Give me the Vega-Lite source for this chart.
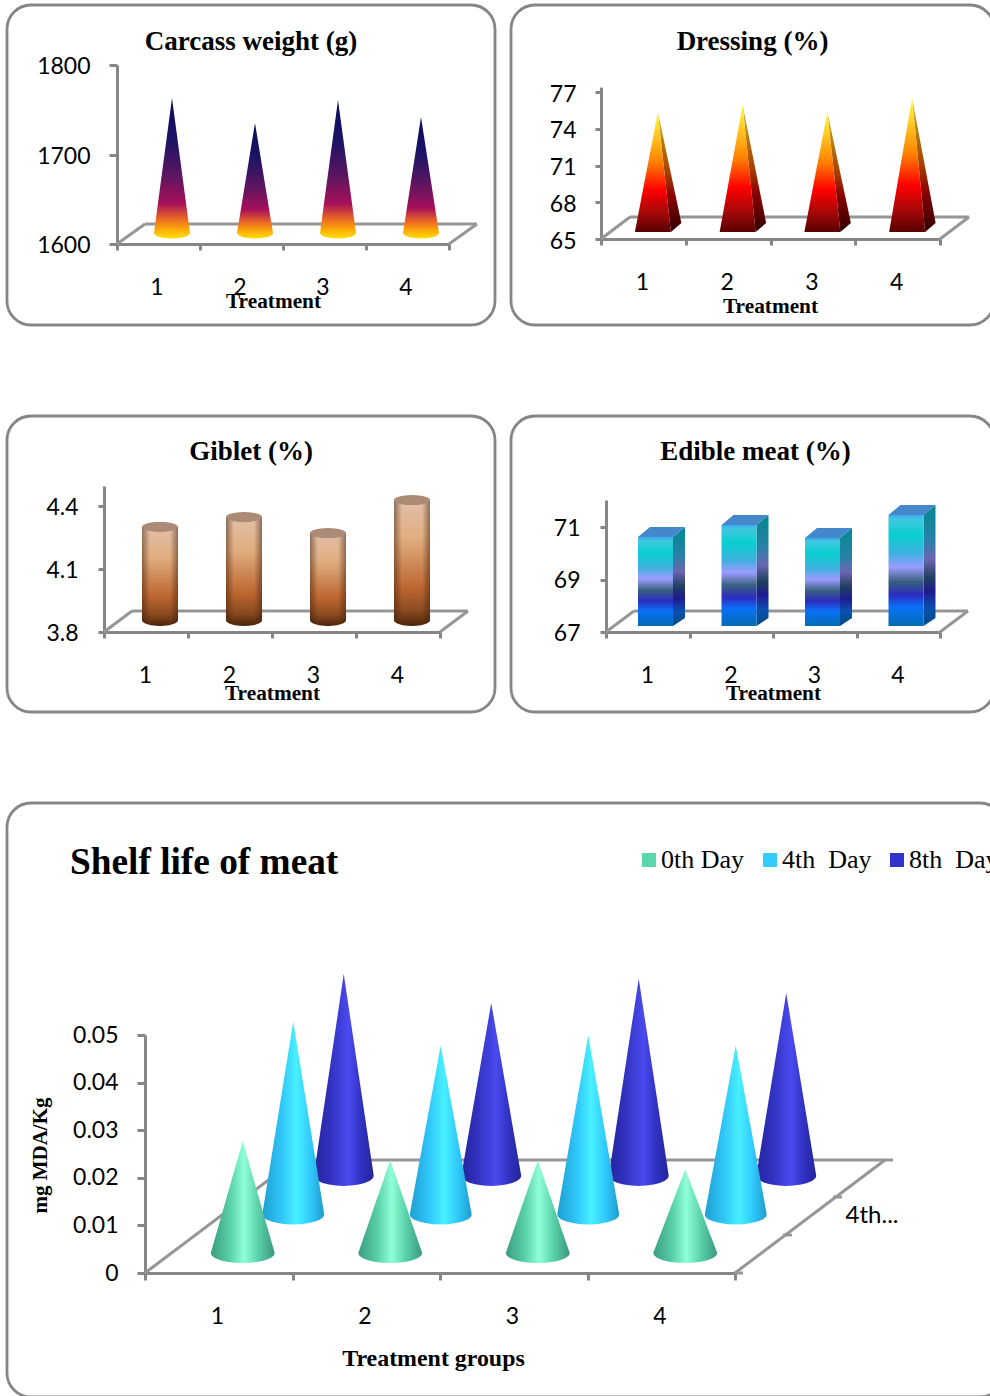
{
"$schema":"https://vega.github.io/schema/vega-lite/v6.json",
"padding":{"left":5,"top":3,"right":0,"bottom":0},
"background":"white",
"config":{
"view":{"stroke":"#868686","strokeWidth":2.8,"cornerRadius":24,"fill":"white"},
"title":{"font":"Liberation Serif","fontWeight":"bold","color":"#000","fontSize":27,"frame":"group","anchor":"middle","baseline":"alphabetic"},
"axis":{"grid":false,"domainColor":"#868686","domainWidth":3,"tickColor":"#868686","tickWidth":3,"labelFont":"Lato","labelFontSize":23,"labelColor":"#000","titleFont":"Liberation Serif","titleFontWeight":"bold","titleColor":"#000","labelOverlap":false,"labelBound":false,"labelFlush":false,"titleFontSize":21.3,"titleAlign":"center","titleBaseline":"alphabetic"}
},
"datasets":{
"frame":[{"part":"floor"}],
"carcass":[{"treatment":1,"value":1750.8},{"treatment":2,"value":1722.9},{"treatment":3,"value":1748.6},{"treatment":4,"value":1729.6}],
"dressing":[{"treatment":1,"value":74.8},{"treatment":2,"value":75.37},{"treatment":3,"value":74.8},{"treatment":4,"value":75.94}],
"giblet":[{"treatment":1,"value":4.243},{"treatment":2,"value":4.29},{"treatment":3,"value":4.214},{"treatment":4,"value":4.371}],
"edible":[{"treatment":1,"value":70.39},{"treatment":2,"value":70.85},{"treatment":3,"value":70.35},{"treatment":4,"value":71.23}],
"shelf":[
{"treatment":1,"series":"0th Day","value":0.0235},{"treatment":2,"series":"0th Day","value":0.0195},{"treatment":3,"series":"0th Day","value":0.0195},{"treatment":4,"series":"0th Day","value":0.0176},
{"treatment":1,"series":"4th\u00a0\u00a0Day","value":0.0405},{"treatment":2,"series":"4th\u00a0\u00a0Day","value":0.0355},{"treatment":3,"series":"4th\u00a0\u00a0Day","value":0.0376},{"treatment":4,"series":"4th\u00a0\u00a0Day","value":0.0355},
{"treatment":1,"series":"8th\u00a0\u00a0Day","value":0.0424},{"treatment":2,"series":"8th\u00a0\u00a0Day","value":0.0363},{"treatment":3,"series":"8th\u00a0\u00a0Day","value":0.0414},{"treatment":4,"series":"8th\u00a0\u00a0Day","value":0.0384}
]
},
"spacing":87,
"vconcat":[
{"spacing":16,"bounds":"flush","hconcat":[
{"width":488,"height":320,
"title":{"text":"Carcass weight (g)","offset":-51},
"resolve":{"axis":{"x":"independent","y":"independent"}},
"layer":[
{"data":{"name":"frame"},"mark":{"type":"rule","color":"#969696","strokeWidth":3},
"encoding":{
"x":{"datum":0.837,"type":"quantitative","scale":{"domain":[0.5,4.5],"range":[110,442],"nice":false,"zero":false},
"axis":{"orient":"bottom","offset":-81,"values":[0.5,1.5,2.5,3.5,4.5],"labelExpr":"datum.value<4 ? ''+(datum.value+0.5) : ''","labelOffset":39.5,"tickSize":6,"labelPadding":26,"title":"Treatment","titleX":266,"titleY":63}},
"x2":{"datum":4.837},
"y":{"datum":1622.3,"type":"quantitative","scale":{"domain":[1600,1800],"range":[239,60],"nice":false,"zero":false},
"axis":{"orient":"left","offset":-110,"values":[1600,1700,1800],"format":"d","tickSize":8,"labelPadding":19,"labelOffset":1.5,"title":null}}
}},
{"data":{"name":"frame"},"mark":{"type":"rule","color":"#969696","strokeWidth":3},"encoding":{"x":{"datum":0.5,"axis":null},"x2":{"datum":0.837},"y":{"datum":1600,"axis":null},"y2":{"datum":1622.3}}},
{"data":{"name":"frame"},"mark":{"type":"rule","color":"#969696","strokeWidth":3},"encoding":{"x":{"datum":4.5,"axis":null},"x2":{"datum":4.837},"y":{"datum":1600,"axis":null},"y2":{"datum":1622.3}}},
{"data":{"name":"carcass"},
"transform":[
{"calculate":"[-1,-0.97,-0.87,-0.7,-0.5,-0.25,0,0.25,0.5,0.7,0.87,0.97,1]","as":"t"},{"flatten":["t"]},
{"calculate":"datum.treatment+(13.5+18*datum.t)/83","as":"px"},
{"calculate":"1612.3-5.5/0.895*sqrt(1-datum.t*datum.t)","as":"lo"},
{"calculate":"1612.3+(datum.value-1600)*(1-abs(datum.t))","as":"hi"}],
"mark":{"type":"area","orient":"vertical","fill":{"gradient":"linear","x1":0,"y1":0,"x2":0,"y2":1,"stops":[{"offset":0,"color":"#0c0c5c"},{"offset":0.3,"color":"#1c1465"},{"offset":0.55,"color":"#5c1560"},{"offset":0.75,"color":"#a8105a"},{"offset":0.87,"color":"#f07020"},{"offset":0.96,"color":"#ffc000"},{"offset":1,"color":"#ffe000"}]}},
"encoding":{"x":{"field":"px","type":"quantitative","axis":null},"y":{"field":"lo","type":"quantitative","axis":null},"y2":{"field":"hi"},"detail":{"field":"treatment","type":"nominal"}}}
]},
{"width":483,"height":320,
"title":{"text":"Dressing (%)","offset":-51},
"resolve":{"axis":{"x":"independent","y":"independent"}},
"layer":[
{"data":{"name":"frame"},"mark":{"type":"rule","color":"#969696","strokeWidth":3},
"encoding":{
"x":{"datum":0.842,"type":"quantitative","scale":{"domain":[0.5,4.5],"range":[90,429],"nice":false,"zero":false},
"axis":{"orient":"bottom","offset":-86,"values":[0.5,1.5,2.5,3.5,4.5],"labelExpr":"datum.value<4 ? ''+(datum.value+0.5) : ''","labelOffset":41,"tickSize":6,"labelPadding":26,"title":"Treatment","titleX":259,"titleY":73}},
"x2":{"datum":4.842},
"y":{"datum":66.8,"type":"quantitative","scale":{"domain":[65,77.4],"range":[234,82.1],"nice":false,"zero":false},
"axis":{"orient":"left","offset":-90,"values":[65,68,71,74,77],"tickSize":6,"labelPadding":19,"labelOffset":2,"title":null}}
}},
{"data":{"name":"frame"},"mark":{"type":"rule","color":"#969696","strokeWidth":3},"encoding":{"x":{"datum":0.5,"axis":null},"x2":{"datum":0.842},"y":{"datum":65,"axis":null},"y2":{"datum":66.8}}},
{"data":{"name":"frame"},"mark":{"type":"rule","color":"#969696","strokeWidth":3},"encoding":{"x":{"datum":4.5,"axis":null},"x2":{"datum":4.842},"y":{"datum":65,"axis":null},"y2":{"datum":66.8}}},
{"data":{"name":"dressing"},
"transform":[
{"calculate":"[5,18,28.5]","as":"dx"},{"flatten":["dx"]},
{"calculate":"datum.treatment+(9.5+datum.dx)/84.75","as":"px"},
{"calculate":"datum.dx==5?datum.value+0.57:(datum.dx==18?65.57:66.3)","as":"lo"},
{"calculate":"datum.dx==5?datum.value+0.57:(datum.dx==18?66.3+(datum.value-65.73)*0.4468:66.3)","as":"hi"}],
"mark":{"type":"area","orient":"vertical","fill":{"gradient":"linear","x1":0,"y1":0,"x2":0,"y2":1,"stops":[{"offset":0,"color":"#d8c040"},{"offset":0.25,"color":"#b87a10"},{"offset":0.5,"color":"#a84000"},{"offset":0.7,"color":"#8a0000"},{"offset":1,"color":"#300000"}]}},
"encoding":{"x":{"field":"px","type":"quantitative","axis":null},"y":{"field":"lo","type":"quantitative","axis":null},"y2":{"field":"hi"},"detail":{"field":"treatment","type":"nominal"}}},
{"data":{"name":"dressing"},
"transform":[
{"calculate":"[-18,5,18]","as":"dx"},{"flatten":["dx"]},
{"calculate":"datum.treatment+(9.5+datum.dx)/84.75","as":"px"},
{"calculate":"65.57","as":"lo"},
{"calculate":"datum.dx==5?datum.value+0.57:65.57","as":"hi"}],
"mark":{"type":"area","orient":"vertical","fill":{"gradient":"linear","x1":0,"y1":0,"x2":0,"y2":1,"stops":[{"offset":0,"color":"#ffff40"},{"offset":0.22,"color":"#ffc020"},{"offset":0.42,"color":"#ff8000"},{"offset":0.65,"color":"#ff0000"},{"offset":0.85,"color":"#a00808"},{"offset":1,"color":"#580000"}]}},
"encoding":{"x":{"field":"px","type":"quantitative","axis":null},"y":{"field":"lo","type":"quantitative","axis":null},"y2":{"field":"hi"},"detail":{"field":"treatment","type":"nominal"}}}
]}
]},
{"spacing":16,"bounds":"flush","hconcat":[
{"width":488,"height":296,
"title":{"text":"Giblet (%)","offset":-50},
"resolve":{"axis":{"x":"independent","y":"independent"}},
"layer":[
{"data":{"name":"frame"},"mark":{"type":"rule","color":"#969696","strokeWidth":3},
"encoding":{
"x":{"datum":0.833,"type":"quantitative","scale":{"domain":[0.5,4.5],"range":[97,433],"nice":false,"zero":false},
"axis":{"orient":"bottom","offset":-80,"values":[0.5,1.5,2.5,3.5,4.5],"labelExpr":"datum.value<4 ? ''+(datum.value+0.5) : ''","labelOffset":41,"tickSize":6,"labelPadding":26,"title":"Treatment","titleX":265,"titleY":67}},
"x2":{"datum":4.833},
"y":{"datum":3.9,"type":"quantitative","scale":{"domain":[3.8,4.495],"range":[216,70],"nice":false,"zero":false},
"axis":{"orient":"left","offset":-97,"values":[3.8,4.1,4.4],"format":".1f","tickSize":6,"labelPadding":20,"labelOffset":1.5,"title":null}}
}},
{"data":{"name":"frame"},"mark":{"type":"rule","color":"#969696","strokeWidth":3},"encoding":{"x":{"datum":0.5,"axis":null},"x2":{"datum":0.833},"y":{"datum":3.8,"axis":null},"y2":{"datum":3.9}}},
{"data":{"name":"frame"},"mark":{"type":"rule","color":"#969696","strokeWidth":3},"encoding":{"x":{"datum":4.5,"axis":null},"x2":{"datum":4.833},"y":{"datum":3.8,"axis":null},"y2":{"datum":3.9}}},
{"data":{"name":"giblet"},
"transform":[
{"calculate":"[-1,-0.97,-0.87,-0.7,-0.5,-0.25,0,0.25,0.5,0.7,0.87,0.97,1]","as":"t"},{"flatten":["t"]},
{"calculate":"datum.treatment+(14+18*datum.t)/84","as":"px"},
{"calculate":"3.857-0.0286*sqrt(1-datum.t*datum.t)","as":"lo"},
{"calculate":"datum.value+0.057","as":"hi"},
{"calculate":"datum.value+0.057-0.024*sqrt(1-datum.t*datum.t)","as":"capLo"},
{"calculate":"datum.value+0.057+0.024*sqrt(1-datum.t*datum.t)","as":"capHi"}],
"layer":[
{"mark":{"type":"area","orient":"vertical","fill":{"gradient":"linear","x1":0,"y1":0,"x2":0,"y2":1,"stops":[{"offset":0,"color":"#e2bfa8"},{"offset":0.3,"color":"#e0ae80"},{"offset":0.7,"color":"#bd6630"},{"offset":0.88,"color":"#8a4a20"},{"offset":1,"color":"#4a2408"}]}},
"encoding":{"x":{"field":"px","type":"quantitative","axis":null},"y":{"field":"lo","type":"quantitative","axis":null},"y2":{"field":"hi"},"detail":{"field":"treatment","type":"nominal"}}},
{"mark":{"type":"area","orient":"vertical","fill":{"gradient":"linear","x1":0,"y1":0,"x2":1,"y2":0,"stops":[{"offset":0,"color":"rgba(60,30,10,0.5)"},{"offset":0.22,"color":"rgba(60,30,10,0)"},{"offset":0.78,"color":"rgba(60,30,10,0)"},{"offset":1,"color":"rgba(60,30,10,0.5)"}]}},
"encoding":{"x":{"field":"px","type":"quantitative","axis":null},"y":{"field":"lo","type":"quantitative","axis":null},"y2":{"field":"hi"},"detail":{"field":"treatment","type":"nominal"}}},
{"mark":{"type":"area","orient":"vertical","fill":"#ab8a76"},
"encoding":{"x":{"field":"px","type":"quantitative","axis":null},"y":{"field":"capLo","type":"quantitative","axis":null},"y2":{"field":"capHi"},"detail":{"field":"treatment","type":"nominal"}}}
]}
]},
{"width":483,"height":296,
"title":{"text":"Edible meat (%)","offset":-50,"dx":3},
"resolve":{"axis":{"x":"independent","y":"independent"}},
"layer":[
{"data":{"name":"frame"},"mark":{"type":"rule","color":"#969696","strokeWidth":3},
"encoding":{
"x":{"datum":0.835,"type":"quantitative","scale":{"domain":[0.5,4.5],"range":[95,429],"nice":false,"zero":false},
"axis":{"orient":"bottom","offset":-80,"values":[0.5,1.5,2.5,3.5,4.5],"labelExpr":"datum.value<4 ? ''+(datum.value+0.5) : ''","labelOffset":41,"tickSize":6,"labelPadding":26,"title":"Treatment","titleX":262,"titleY":67}},
"x2":{"datum":4.835},
"y":{"datum":67.8,"type":"quantitative","scale":{"domain":[67,72.03],"range":[216,84],"nice":false,"zero":false},
"axis":{"orient":"left","offset":-95,"values":[67,69,71],"tickSize":6,"labelPadding":20,"labelOffset":1,"title":null}}
}},
{"data":{"name":"frame"},"mark":{"type":"rule","color":"#969696","strokeWidth":3},"encoding":{"x":{"datum":0.5,"axis":null},"x2":{"datum":0.835},"y":{"datum":67,"axis":null},"y2":{"datum":67.8}}},
{"data":{"name":"frame"},"mark":{"type":"rule","color":"#969696","strokeWidth":3},"encoding":{"x":{"datum":4.5,"axis":null},"x2":{"datum":4.835},"y":{"datum":67,"axis":null},"y2":{"datum":67.8}}},
{"data":{"name":"edible"},
"transform":[
{"calculate":"[17.5,29.5]","as":"dx"},{"flatten":["dx"]},
{"calculate":"datum.treatment+(7.75+datum.dx)/83.5","as":"px"},
{"calculate":"datum.dx==17.5?67.229:67.534","as":"lo"},
{"calculate":"datum.dx==17.5?datum.value+0.229:datum.value+0.61","as":"hi"}],
"mark":{"type":"area","orient":"vertical","fill":{"gradient":"linear","x1":0,"y1":0,"x2":0,"y2":1,"stops":[{"offset":0,"color":"#008a90"},{"offset":0.3,"color":"#2a80a8"},{"offset":0.45,"color":"#6a66b0"},{"offset":0.6,"color":"#203f60"},{"offset":0.72,"color":"#201a90"},{"offset":0.85,"color":"#0a50b0"},{"offset":1,"color":"#004a80"}]}},
"encoding":{"x":{"field":"px","type":"quantitative","axis":null},"y":{"field":"lo","type":"quantitative","axis":null},"y2":{"field":"hi"},"detail":{"field":"treatment","type":"nominal"}}},
{"data":{"name":"edible"},
"transform":[
{"calculate":"[-17.5,-5.5,17.5,29.5]","as":"dx"},{"flatten":["dx"]},
{"calculate":"datum.treatment+(7.75+datum.dx)/83.5","as":"px"},
{"calculate":"datum.dx==29.5?datum.value+0.61:datum.value+0.229","as":"lo"},
{"calculate":"datum.dx==-17.5?datum.value+0.229:datum.value+0.61","as":"hi"}],
"mark":{"type":"area","orient":"vertical","fill":"#4488cc"},
"encoding":{"x":{"field":"px","type":"quantitative","axis":null},"y":{"field":"lo","type":"quantitative","axis":null},"y2":{"field":"hi"},"detail":{"field":"treatment","type":"nominal"}}},
{"data":{"name":"edible"},
"transform":[
{"calculate":"[-17.5,17.5]","as":"dx"},{"flatten":["dx"]},
{"calculate":"datum.treatment+(7.75+datum.dx)/83.5","as":"px"},
{"calculate":"67.229","as":"lo"},
{"calculate":"datum.value+0.229","as":"hi"}],
"mark":{"type":"area","orient":"vertical","fill":{"gradient":"linear","x1":0,"y1":0,"x2":0,"y2":1,"stops":[{"offset":0,"color":"#3aa8f0"},{"offset":0.04,"color":"#40c8e0"},{"offset":0.18,"color":"#08cfd0"},{"offset":0.35,"color":"#40b0e0"},{"offset":0.47,"color":"#9c9cff"},{"offset":0.6,"color":"#386080"},{"offset":0.72,"color":"#2c2cc0"},{"offset":0.83,"color":"#0a70f8"},{"offset":1,"color":"#006cb0"}]}},
"encoding":{"x":{"field":"px","type":"quantitative","axis":null},"y":{"field":"lo","type":"quantitative","axis":null},"y2":{"field":"hi"},"detail":{"field":"treatment","type":"nominal"}}}
]}
]},
{"width":997,"height":594,"bounds":"flush",
"title":{"text":"Shelf life of meat","offset":-79,"anchor":"start","dx":63,"fontSize":37.3},
"resolve":{"axis":{"x":"independent","y":"independent"}},
"layer":[
{"data":{"name":"frame"},"mark":{"type":"rule","color":"#969696","strokeWidth":3},
"encoding":{
"x":{"datum":1.517,"type":"quantitative","scale":{"domain":[0.5,4.5],"range":[138,728],"nice":false,"zero":false},
"axis":{"orient":"bottom","offset":-124,"values":[0.5,1.5,2.5,3.5,4.5],"labelExpr":"datum.value<4 ? ''+(datum.value+0.5) : ''","labelOffset":72,"tickSize":7,"labelPadding":25,"title":"Treatment groups","titleX":426,"titleY":92,"titleFontSize":23.9}},
"x2":{"datum":5.571},
"y":{"datum":0.02374,"type":"quantitative","scale":{"domain":[0,0.05],"range":[470,232],"nice":false,"zero":false},
"axis":{"orient":"left","offset":-138,"values":[0,0.01,0.02,0.03,0.04,0.05],"labelExpr":"datum.value==0?'0':format(datum.value,'.2f')","tickSize":8,"labelPadding":19,"title":"mg MDA/Kg","titleX":-99,"titleY":352,"titleAngle":-90,"titleFontSize":21}}
}},
{"data":{"name":"frame"},"mark":{"type":"rule","color":"#969696","strokeWidth":3},"encoding":{"x":{"datum":0.5,"axis":null},"x2":{"datum":1.517},"y":{"datum":0,"axis":null},"y2":{"datum":0.02374}}},
{"data":{"name":"frame"},"mark":{"type":"rule","color":"#969696","strokeWidth":3},"encoding":{"x":{"datum":4.5,"axis":null},"x2":{"datum":5.517},"y":{"datum":0,"axis":null},"y2":{"datum":0.02374}}},
{"data":{"name":"frame"},"mark":{"type":"rule","color":"#969696","strokeWidth":3},"encoding":{"x":{"datum":4.5,"axis":null},"x2":{"datum":4.554},"y":{"datum":0,"axis":null}}},
{"data":{"name":"frame"},"mark":{"type":"rule","color":"#969696","strokeWidth":3},"encoding":{"x":{"datum":4.825,"axis":null},"x2":{"datum":4.886},"y":{"datum":0.00798,"axis":null}}},
{"data":{"name":"frame"},"mark":{"type":"rule","color":"#969696","strokeWidth":3},"encoding":{"x":{"datum":5.164,"axis":null},"x2":{"datum":5.225},"y":{"datum":0.01597,"axis":null}}},
{"data":{"name":"frame"},"mark":{"type":"text","font":"Lato","fontSize":24,"color":"#000","text":"4th..."},"encoding":{"x":{"datum":5.429,"axis":null},"y":{"datum":0.01197,"axis":null}}},
{"data":{"name":"shelf"},
"mark":{"type":"point","shape":"square","filled":true,"size":0,"opacity":1},
"encoding":{"x":{"field":"treatment","type":"quantitative","axis":null},"y":{"field":"value","type":"quantitative","axis":null},
"color":{"field":"series","type":"nominal","scale":{"domain":["0th Day","4th\u00a0\u00a0Day","8th\u00a0\u00a0Day"],"range":["#5cd6ac","#33ccff","#3333cc"]},
"legend":{"orient":"none","legendX":629,"legendY":842,"direction":"horizontal","columns":3,"title":null,"symbolType":"square","symbolSize":196,"symbolStrokeWidth":0,"labelFont":"Liberation Serif","labelFontSize":26,"labelColor":"#000","labelOffset":-1,"columnPadding":12,"labelLimit":300}}}},
{"data":{"name":"shelf"},
"transform":[
{"calculate":"indexof(['0th Day','4th\u00a0\u00a0Day','8th\u00a0\u00a0Day'],datum.series)","as":"d"},
{"calculate":"[-1,-0.97,-0.87,-0.7,-0.5,-0.25,0,0.25,0.5,0.7,0.87,0.97,1]","as":"t"},{"flatten":["t"]},
{"calculate":"datum.treatment+(24+50.5*datum.d+(32-datum.d)*datum.t)/147.5","as":"px"},
{"calculate":"0.0042+0.0081*datum.d","as":"base"},
{"calculate":"datum.base-0.0021*sqrt(1-datum.t*datum.t)","as":"lo"},
{"calculate":"datum.base+datum.value*(1-abs(datum.t))","as":"hi"}],
"layer":[
{"transform":[{"filter":"datum.d==2"}],
"mark":{"type":"area","orient":"vertical","fill":{"gradient":"linear","x1":0,"y1":0,"x2":1,"y2":0,"stops":[{"offset":0,"color":"#2424a0"},{"offset":0.25,"color":"#3030bc"},{"offset":0.58,"color":"#4a4af0"},{"offset":0.8,"color":"#3030c0"},{"offset":1,"color":"#24249c"}]}},
"encoding":{"x":{"field":"px","type":"quantitative","axis":null},"y":{"field":"lo","type":"quantitative","axis":null},"y2":{"field":"hi"},"detail":{"field":"treatment","type":"nominal"}}},
{"transform":[{"filter":"datum.d==1"}],
"mark":{"type":"area","orient":"vertical","fill":{"gradient":"linear","x1":0,"y1":0,"x2":1,"y2":0,"stops":[{"offset":0,"color":"#1e9fd0"},{"offset":0.3,"color":"#2fc4f8"},{"offset":0.55,"color":"#48f0ff"},{"offset":0.78,"color":"#30c8fc"},{"offset":1,"color":"#1e9cc8"}]}},
"encoding":{"x":{"field":"px","type":"quantitative","axis":null},"y":{"field":"lo","type":"quantitative","axis":null},"y2":{"field":"hi"},"detail":{"field":"treatment","type":"nominal"}}},
{"transform":[{"filter":"datum.d==0"}],
"mark":{"type":"area","orient":"vertical","fill":{"gradient":"linear","x1":0,"y1":0,"x2":1,"y2":0,"stops":[{"offset":0,"color":"#3c9c80"},{"offset":0.3,"color":"#58d0a8"},{"offset":0.52,"color":"#90ffd8"},{"offset":0.75,"color":"#58d0a8"},{"offset":1,"color":"#3c9880"}]}},
"encoding":{"x":{"field":"px","type":"quantitative","axis":null},"y":{"field":"lo","type":"quantitative","axis":null},"y2":{"field":"hi"},"detail":{"field":"treatment","type":"nominal"}}}
]}
]}
]
}
